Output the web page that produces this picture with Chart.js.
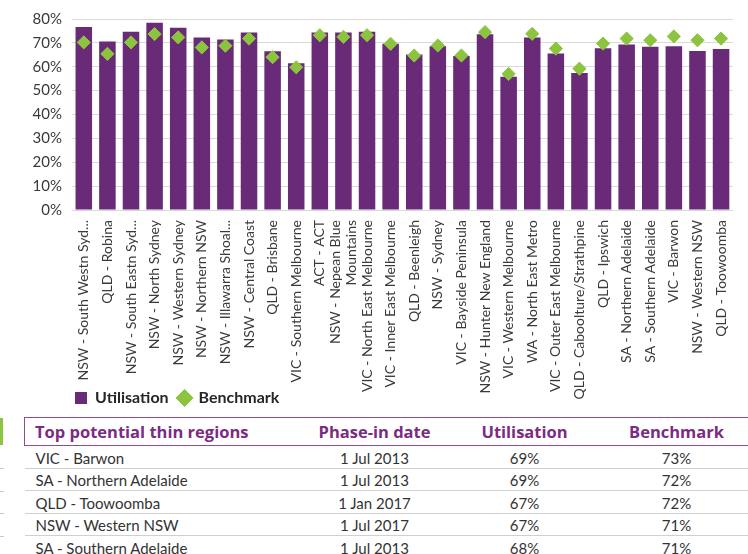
<!DOCTYPE html>
<html>
<head>
<meta charset="utf-8">
<script src="https://cdn.jsdelivr.net/npm/chart.js@4.4.0/dist/chart.umd.min.js"></script>
<style>
  body { margin: 0; width: 748px; height: 554px; overflow: hidden; background: #fff; position: relative; font-family: Lato, sans-serif; }
  #wrap { position: absolute; left: 0; top: 0; width: 748px; height: 446px; }
  #side { position: absolute; left: 0; top: 418px; width: 3px; height: 27px; background: #8cc63f; }
  .stub { position: absolute; left: 0; width: 4px; height: 1px; background: #c8c8c8; }
  table { position: absolute; left: 24px; top: 417px; width: 728px; border-collapse: collapse; color: #333; font-size: 15px; table-layout: fixed; background: #fff; }
  th { color: #7b2b83; font-family: "Open Sans", sans-serif; font-weight: 700; font-size: 16.5px; height: 27px; padding: 0; text-align: center;
       border-top: 1.5px solid #8b4c93; border-bottom: 1.5px solid #8b4c93; }
  th:first-child { border-left: 1.5px solid #8b4c93; text-align: left; padding-left: 10px; }
  td { height: 19.5px; padding: 2px 0 0 0; border-bottom: 1.5px solid #d0d0d0; text-align: center; }
  td:first-child { text-align: left; padding-left: 11px; }
</style>
</head>
<body>
<div id="wrap"><canvas id="chart" width="748" height="446"></canvas></div>
<div id="side"></div>
<table id="tbl">
  <colgroup><col style="width:276px"><col style="width:148px"><col style="width:152px"><col style="width:152px"></colgroup>
  <thead><tr><th>Top potential thin regions</th><th>Phase-in date</th><th>Utilisation</th><th>Benchmark</th></tr></thead>
  <tbody></tbody>
</table>
<div class="stub" style="top:468px"></div>
<div class="stub" style="top:491px"></div>
<div class="stub" style="top:513px"></div>
<div class="stub" style="top:536px"></div>
<script>
const regions = [
  "NSW - South Westn Syd...", "QLD - Robina", "NSW - South Eastn Syd...", "NSW - North Sydney",
  "NSW - Western Sydney", "NSW - Northern NSW", "NSW - Illawarra Shoal...", "NSW - Central Coast",
  "QLD - Brisbane", "VIC - Southern Melbourne", "ACT - ACT", ["NSW - Nepean Blue", "Mountains"],
  "VIC - North East Melbourne", "VIC - Inner East Melbourne", "QLD - Beenleigh", "NSW - Sydney",
  "VIC - Bayside Peninsula", "NSW - Hunter New England", "VIC - Western Melbourne", "WA - North East Metro",
  "VIC - Outer East Melbourne", "QLD - Caboolture/Strathpine", "QLD - Ipswich", "SA - Northern Adelaide",
  "SA - Southern Adelaide", "VIC - Barwon", "NSW - Western NSW", "QLD - Toowoomba"
];
const utilisation = [
  76.7, 70.6, 74.7, 78.4, 76.3, 72.2, 71.4, 74.3, 66.5, 61.5, 74.3, 74.3, 74.7, 69.6,
  65.1, 68.6, 64.5, 73.6, 55.8, 72.3, 65.6, 57.4, 67.7, 69.3, 68.4, 68.6, 66.6, 67.4
];
const benchmark = [
  70.2, 65.4, 70.2, 73.7, 72.3, 68.1, 68.8, 71.8, 64.0, 59.8, 73.2, 72.5, 73.2, 69.6,
  64.7, 68.9, 64.7, 74.5, 57.0, 73.8, 67.6, 59.2, 69.7, 71.8, 71.1, 72.7, 71.1, 71.8
];
const yMax = 80;
const yStep = 10;

// table below the chart
const tableRegions = ["VIC - Barwon", "SA - Northern Adelaide", "QLD - Toowoomba", "NSW - Western NSW", "SA - Southern Adelaide"];
const tablePhaseIn = ["1 Jul 2013", "1 Jul 2013", "1 Jan 2017", "1 Jul 2017", "1 Jul 2013"];
const tableUtil = ["69%", "69%", "67%", "67%", "68%"];
const tableBench = ["73%", "72%", "72%", "71%", "71%"];

const tbody = document.querySelector("#tbl tbody");
tableRegions.forEach((r, i) => {
  const tr = document.createElement("tr");
  [r, tablePhaseIn[i], tableUtil[i], tableBench[i]].forEach(t => {
    const td = document.createElement("td");
    td.textContent = t;
    tr.appendChild(td);
  });
  tbody.appendChild(tr);
});

const tickColor = "#3a3a3a";

// legend sits over the bottom of the label area, lined up with the plot
const legendShift = {
  id: "legendShift",
  afterLayout(chart) {
    const lg = chart.legend;
    if (!lg) return;
    lg.left = 65;
    lg.top = 380;
    lg.bottom = lg.top + lg.height;
  }
};

// centre two-line x labels on their bar (chart.js starts the first line at the tick)
const centreMultiline = {
  id: "centreMultiline",
  beforeDraw(chart) {
    chart.scales.x.getLabelItems().forEach(it => {
      if (Array.isArray(it.label) && !it._moved) {
        it.options.translation[0] -= it.font.lineHeight * (it.label.length - 1) / 2;
        it._moved = true;
      }
    });
  }
};

new Chart(document.getElementById("chart"), {
  data: {
    labels: regions,
    datasets: [
      {
        type: "bar",
        label: "Utilisation",
        data: utilisation,
        backgroundColor: "#692a77",
        barPercentage: 0.7,
        categoryPercentage: 1,
        pointStyle: "rect",
        order: 1
      },
      {
        type: "line",
        label: "Benchmark",
        data: benchmark,
        showLine: false,
        pointStyle: "rectRot",
        pointRadius: 6.6,
        pointBackgroundColor: "#8cc43f",
        pointBorderColor: "#8cc43f",
        backgroundColor: "#8cc43f",
        borderColor: "#8cc43f",
        pointBorderWidth: 1,
        order: 0
      }
    ]
  },
  options: {
    responsive: false,
    animation: false,
    layout: { padding: { top: 7, right: 4 } },
    plugins: {
      legend: {
        position: "bottom",
        align: "start",
        labels: {
          usePointStyle: true,
          boxWidth: 12,
          boxHeight: 12,
          padding: 10,
          color: "#262626",
          font: { family: "Lato", size: 16, weight: "bold" },
          sort: (a, b) => a.datasetIndex - b.datasetIndex
        }
      },
      tooltip: { enabled: false }
    },
    scales: {
      x: {
        grid: { display: false, drawTicks: false },
        border: { display: false },
        ticks: {
          autoSkip: false,
          maxRotation: 90,
          minRotation: 90,
          padding: 10,
          color: tickColor,
          font: { family: "Lato", size: 14 }
        },
        afterFit(scale) { scale.height = 200; }
      },
      y: {
        min: 0,
        max: yMax,
        ticks: {
          stepSize: yStep,
          padding: 10,
          color: tickColor,
          font: { family: "Lato", size: 15 },
          callback: v => v + "%"
        },
        grid: { color: "#d9d9d9", drawTicks: false },
        border: { display: false },
        afterFit(scale) { scale.width = 72; }
      }
    }
  },
  plugins: [legendShift, centreMultiline]
});
</script>
</body>
</html>
